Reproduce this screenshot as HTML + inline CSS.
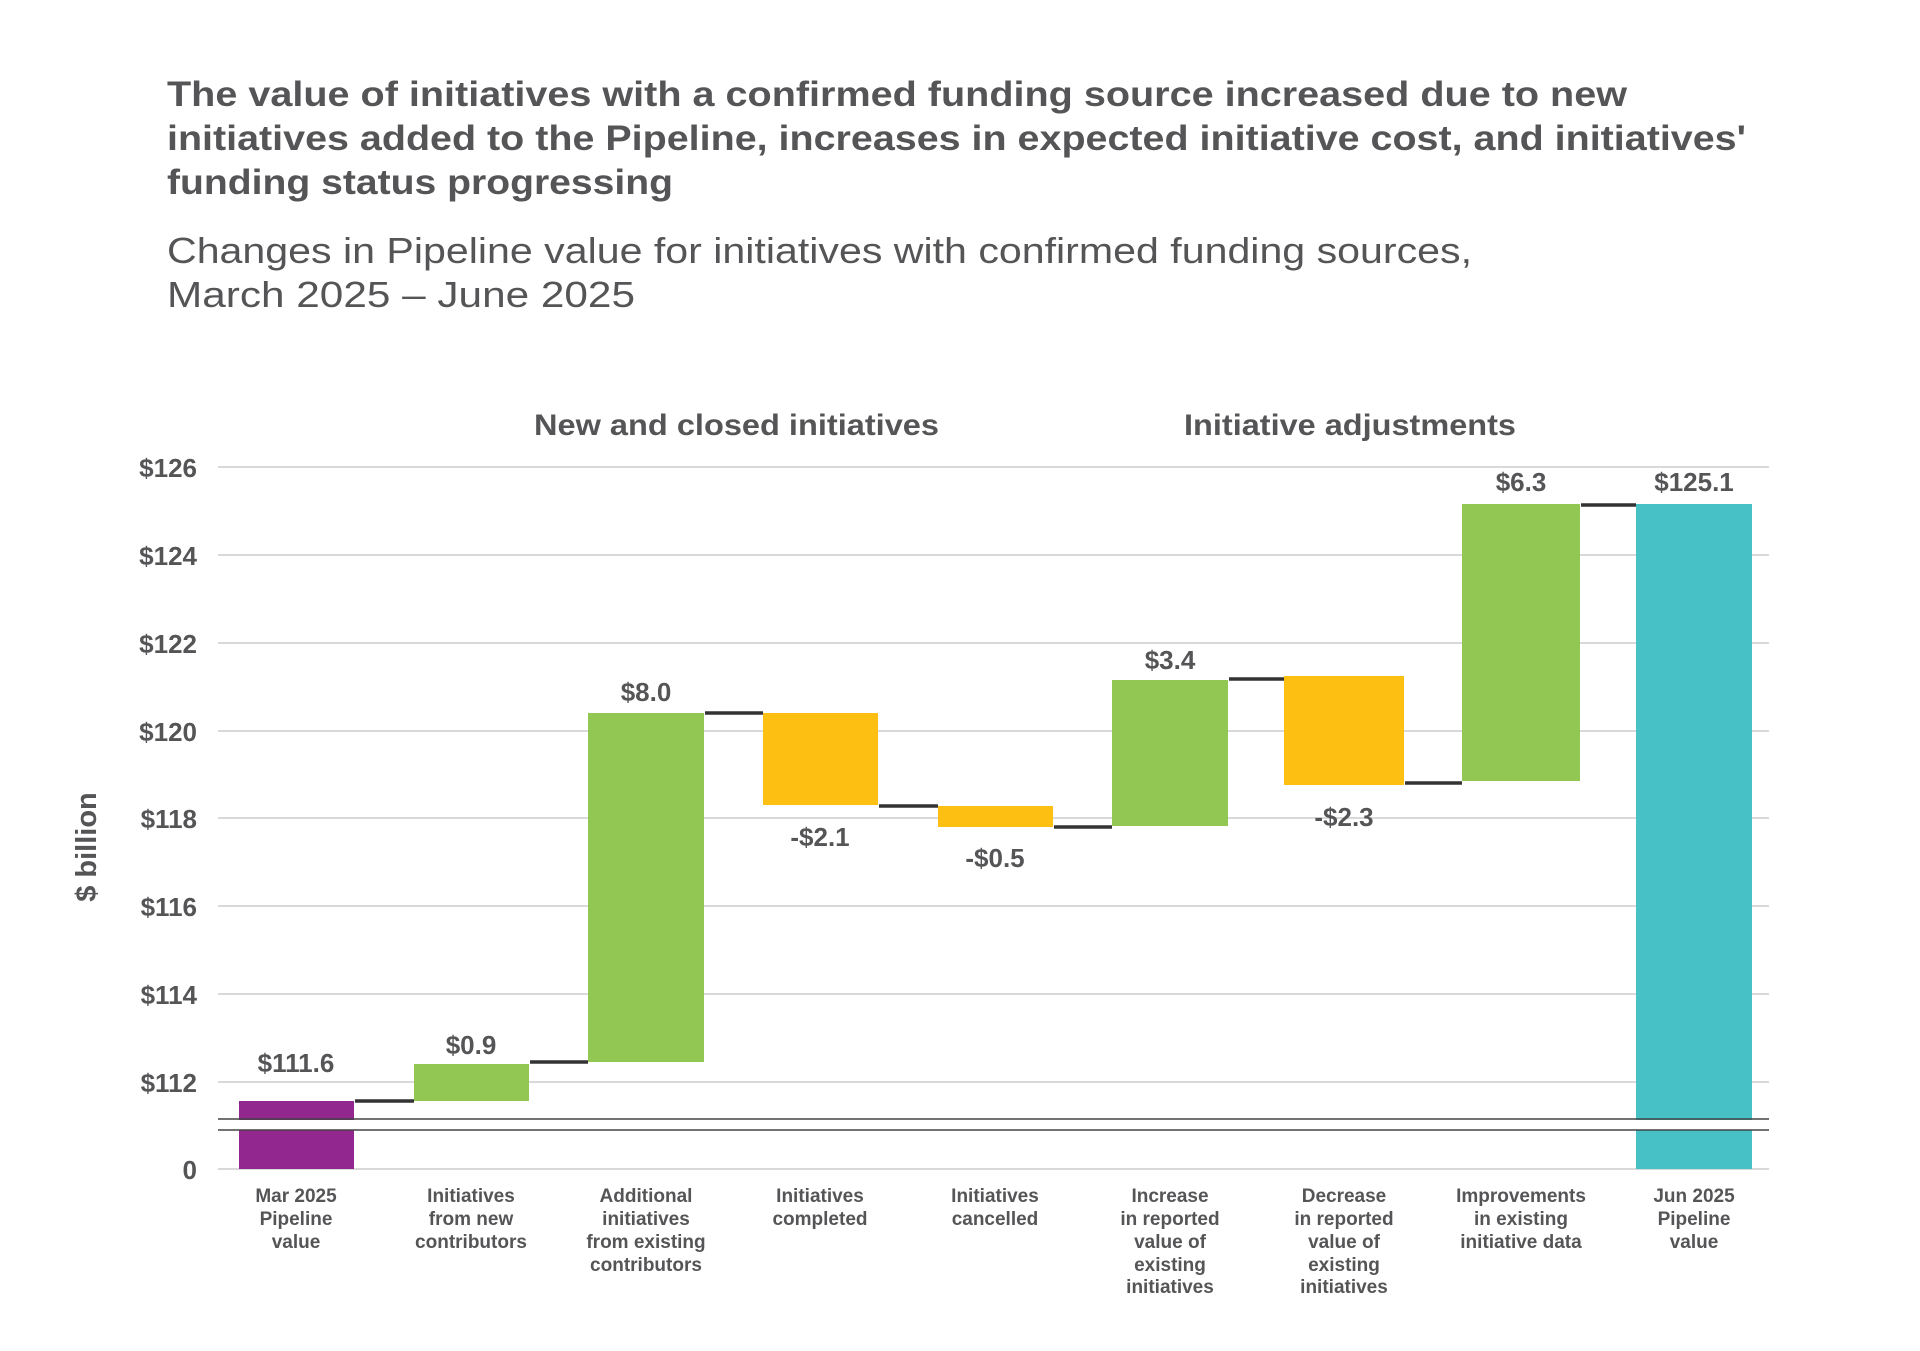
<!DOCTYPE html>
<html><head><meta charset="utf-8"><style>
html,body{margin:0;padding:0;background:#fff;}
svg{display:block;font-family:"Liberation Sans",sans-serif;}
</style></head><body>
<svg width="1920" height="1351" viewBox="0 0 1920 1351" xmlns="http://www.w3.org/2000/svg">
<g fill="#555557" font-weight="bold" font-size="35">
<text x="167" y="106" textLength="1460" lengthAdjust="spacingAndGlyphs">The value of initiatives with a confirmed funding source increased due to new</text>
<text x="167" y="150" textLength="1579" lengthAdjust="spacingAndGlyphs">initiatives added to the Pipeline, increases in expected initiative cost, and initiatives'</text>
<text x="167" y="194" textLength="506" lengthAdjust="spacingAndGlyphs">funding status progressing</text>
</g>
<g fill="#555557" font-size="36">
<text x="167" y="263" textLength="1305" lengthAdjust="spacingAndGlyphs">Changes in Pipeline value for initiatives with confirmed funding sources,</text>
<text x="167" y="307" textLength="468" lengthAdjust="spacingAndGlyphs">March 2025 – June 2025</text>
</g>
<g fill="#555557" font-weight="bold" font-size="30">
<text x="534" y="435" textLength="405" lengthAdjust="spacingAndGlyphs">New and closed initiatives</text>
<text x="1184" y="435" textLength="332" lengthAdjust="spacingAndGlyphs">Initiative adjustments</text>
</g>
<g stroke="#d9d9d9" stroke-width="2">
<line x1="218" x2="1769" y1="467" y2="467"/>
<line x1="218" x2="1769" y1="555" y2="555"/>
<line x1="218" x2="1769" y1="643" y2="643"/>
<line x1="218" x2="1769" y1="731" y2="731"/>
<line x1="218" x2="1769" y1="818" y2="818"/>
<line x1="218" x2="1769" y1="906" y2="906"/>
<line x1="218" x2="1769" y1="994" y2="994"/>
<line x1="218" x2="1769" y1="1082" y2="1082"/>
<line x1="218" x2="1769" y1="1169" y2="1169"/>
</g>
<g fill="#555557" font-weight="bold" font-size="26" text-anchor="end">
<text x="197" y="477">$126</text>
<text x="197" y="565">$124</text>
<text x="197" y="653">$122</text>
<text x="197" y="741">$120</text>
<text x="197" y="828">$118</text>
<text x="197" y="916">$116</text>
<text x="197" y="1004">$114</text>
<text x="197" y="1092">$112</text>
<text x="197" y="1179">0</text>
</g>
<text transform="translate(96,847) rotate(-90)" text-anchor="middle" fill="#555557" font-weight="bold" font-size="29">$ billion</text>
<rect x="239" y="1101" width="115" height="68" fill="#92278f"/>
<rect x="414" y="1064" width="115" height="37" fill="#92c753"/>
<rect x="588" y="713" width="116" height="349" fill="#92c753"/>
<rect x="763" y="713" width="115" height="92" fill="#fdbf12"/>
<rect x="938" y="806" width="115" height="21" fill="#fdbf12"/>
<rect x="1112" y="680" width="116" height="146" fill="#92c753"/>
<rect x="1284" y="676" width="120" height="109" fill="#fdbf12"/>
<rect x="1462" y="504" width="118" height="277" fill="#92c753"/>
<rect x="1636" y="504" width="116" height="665" fill="#47c1c5"/>
<rect x="218" y="1120" width="1551" height="10" fill="#fff"/>
<g stroke="#444" stroke-width="1.5">
<line x1="218" x2="1769" y1="1119" y2="1119"/>
<line x1="218" x2="1769" y1="1130" y2="1130"/>
</g>
<g stroke="#333" stroke-width="3.5">
<line x1="355" x2="414" y1="1101" y2="1101"/>
<line x1="530" x2="588" y1="1062" y2="1062"/>
<line x1="705" x2="763" y1="713" y2="713"/>
<line x1="879" x2="938" y1="806" y2="806"/>
<line x1="1054" x2="1112" y1="827" y2="827"/>
<line x1="1229" x2="1284" y1="679" y2="679"/>
<line x1="1405" x2="1462" y1="783" y2="783"/>
<line x1="1581" x2="1636" y1="505" y2="505"/>
</g>
<g fill="#555557" font-weight="bold" font-size="26" text-anchor="middle">
<text x="296" y="1072">$111.6</text>
<text x="471" y="1054">$0.9</text>
<text x="646" y="701">$8.0</text>
<text x="820" y="846">-$2.1</text>
<text x="995" y="867">-$0.5</text>
<text x="1170" y="669">$3.4</text>
<text x="1344" y="826">-$2.3</text>
<text x="1521" y="491">$6.3</text>
<text x="1694" y="491">$125.1</text>
</g>
<g fill="#555557" font-weight="bold" font-size="19" text-anchor="middle">
<text x="296" y="1202">Mar 2025</text><text x="296" y="1225">Pipeline</text><text x="296" y="1248">value</text>
<text x="471" y="1202">Initiatives</text><text x="471" y="1225">from new</text><text x="471" y="1248">contributors</text>
<text x="646" y="1202">Additional</text><text x="646" y="1225">initiatives</text><text x="646" y="1248">from existing</text><text x="646" y="1271">contributors</text>
<text x="820" y="1202">Initiatives</text><text x="820" y="1225">completed</text>
<text x="995" y="1202">Initiatives</text><text x="995" y="1225">cancelled</text>
<text x="1170" y="1202">Increase</text><text x="1170" y="1225">in reported</text><text x="1170" y="1248">value of</text><text x="1170" y="1271">existing</text><text x="1170" y="1293">initiatives</text>
<text x="1344" y="1202">Decrease</text><text x="1344" y="1225">in reported</text><text x="1344" y="1248">value of</text><text x="1344" y="1271">existing</text><text x="1344" y="1293">initiatives</text>
<text x="1521" y="1202">Improvements</text><text x="1521" y="1225">in existing</text><text x="1521" y="1248">initiative data</text>
<text x="1694" y="1202">Jun 2025</text><text x="1694" y="1225">Pipeline</text><text x="1694" y="1248">value</text>
</g>
</svg>
</body></html>
